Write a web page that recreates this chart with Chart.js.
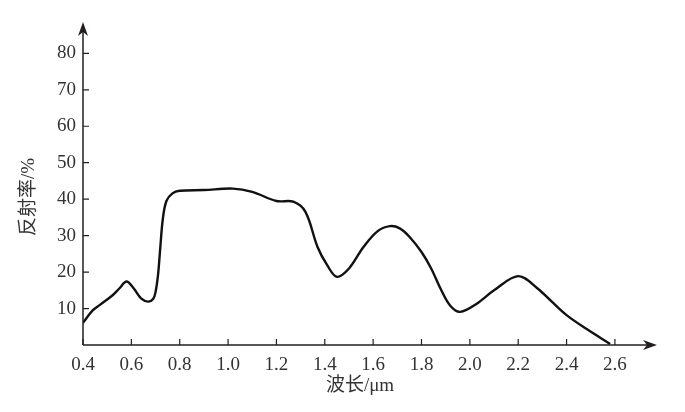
<!DOCTYPE html>
<html>
<head>
<meta charset="utf-8">
<script src="https://cdn.jsdelivr.net/npm/chart.js@4"></script>
<style>
  html, body { margin: 0; padding: 0; background: #fff; }
  #wrap { width: 685px; height: 412px; }
</style>
</head>
<body>
<div id="wrap"><canvas id="specChart"></canvas></div>
<script>
// Spectral reflectance curve
const waveLengths = [0.40, 0.44, 0.47, 0.52, 0.55, 0.58, 0.61, 0.64, 0.67, 0.69, 0.70, 0.71, 0.72, 0.73, 0.745, 0.77, 0.80, 0.90, 1.02, 1.10, 1.20, 1.27, 1.32, 1.37, 1.41, 1.45, 1.50, 1.56, 1.62, 1.67, 1.71, 1.75, 1.80, 1.84, 1.88, 1.92, 1.96, 2.03, 2.10, 2.20, 2.28, 2.34, 2.40, 2.48, 2.58];
const reflectance = [6.1, 9.5, 11.0, 13.5, 15.5, 17.4, 15.5, 12.8, 11.9, 12.6, 14.5, 19.0, 27.0, 34.5, 39.5, 41.6, 42.3, 42.5, 42.9, 42.0, 39.5, 39.3, 36.5, 26.9, 21.9, 18.7, 21.0, 26.9, 31.3, 32.6, 32.0, 29.7, 25.5, 21.0, 15.3, 10.7, 9.1, 11.4, 15.0, 18.9, 15.5, 11.8, 8.2, 4.5, 0.3];
const xTickLabels = ['0.4', '0.6', '0.8', '1.0', '1.2', '1.4', '1.6', '1.8', '2.0', '2.2', '2.4', '2.6'];
const yTickLabels = ['10', '20', '30', '40', '50', '60', '70', '80'];

const xTitle = '波长/μm';
const yTitle = '反射率/%';

const FONT = "'Liberation Serif', 'Noto Sans CJK SC', serif";
const INK = '#231f20';

// axes with arrows + inward ticks + titles
const axesPlugin = {
    id: 'axesPlugin',
    afterDraw(chart) {
        const ctx = chart.ctx;
        const xs = chart.scales.x;
        const ys = chart.scales.y;
        const area = chart.chartArea;
        const x0 = xs.getPixelForValue(xs.min);
        const y0 = ys.getPixelForValue(0);

        ctx.save();
        ctx.strokeStyle = INK;
        ctx.fillStyle = INK;
        ctx.lineWidth = 1.5;

        // axis lines
        ctx.beginPath();
        ctx.moveTo(x0, y0);
        ctx.lineTo(area.right - 4, y0);
        ctx.moveTo(x0, y0);
        ctx.lineTo(x0, area.top + 4);
        ctx.stroke();

        // inward ticks
        ctx.lineWidth = 1.2;
        ctx.beginPath();
        xTickLabels.forEach(t => {
            const px = xs.getPixelForValue(parseFloat(t));
            ctx.moveTo(px, y0);
            ctx.lineTo(px, y0 - 6);
        });
        yTickLabels.forEach(t => {
            const py = ys.getPixelForValue(parseFloat(t));
            ctx.moveTo(x0, py);
            ctx.lineTo(x0 + 6, py);
        });
        ctx.stroke();

        // arrow heads
        const tipX = area.right;
        ctx.beginPath();
        ctx.moveTo(tipX, y0);
        ctx.lineTo(tipX - 14, y0 - 5);
        ctx.lineTo(tipX - 10, y0);
        ctx.lineTo(tipX - 14, y0 + 5);
        ctx.closePath();
        ctx.fill();

        const tipY = area.top;
        ctx.beginPath();
        ctx.moveTo(x0, tipY);
        ctx.lineTo(x0 - 5, tipY + 14);
        ctx.lineTo(x0, tipY + 10);
        ctx.lineTo(x0 + 5, tipY + 14);
        ctx.closePath();
        ctx.fill();

        // titles
        ctx.font = '19px ' + FONT;
        ctx.textAlign = 'center';
        ctx.textBaseline = 'middle';
        ctx.fillStyle = '#333';
        ctx.fillText(xTitle, 360, 386);

        ctx.translate(29, 197);
        ctx.rotate(-Math.PI / 2);
        ctx.fillText(yTitle, 0, 0);
        ctx.restore();
    }
};

const ctx = document.getElementById('specChart').getContext('2d');

new Chart(ctx, {
    type: 'line',
    data: {
        datasets: [{
            data: waveLengths.map((w, i) => ({ x: w, y: reflectance[i] })),
            borderColor: '#111',
            borderWidth: 2.4,
            pointRadius: 0,
            fill: false,
            tension: 0.35
        }]
    },
    options: {
        responsive: true,
        maintainAspectRatio: false,
        animation: false,
        layout: { padding: { top: 22, right: 28, left: 0, bottom: 0 } },
        plugins: {
            legend: { display: false },
            tooltip: { enabled: false }
        },
        scales: {
            x: {
                type: 'linear',
                min: 0.4,
                max: 2.774,
                afterFit: s => { s.height = 412 - 345; },
                afterBuildTicks: s => {
                    s.ticks = xTickLabels.map(t => ({ value: parseFloat(t) }));
                },
                grid: { display: false, drawTicks: false },
                border: { display: false },
                ticks: {
                    padding: 9,
                    color: '#333',
                    font: { family: FONT, size: 19 },
                    callback: v => v.toFixed(1)
                }
            },
            y: {
                type: 'linear',
                min: 0,
                max: 88.6,
                afterFit: s => { s.width = 83; },
                afterBuildTicks: s => {
                    s.ticks = yTickLabels.map(t => ({ value: parseFloat(t) }));
                },
                grid: { display: false, drawTicks: false },
                border: { display: false },
                ticks: {
                    padding: 7,
                    color: '#333',
                    font: { family: FONT, size: 19 },
                    callback: v => String(v)
                }
            }
        }
    },
    plugins: [axesPlugin]
});
</script>
</body>
</html>
